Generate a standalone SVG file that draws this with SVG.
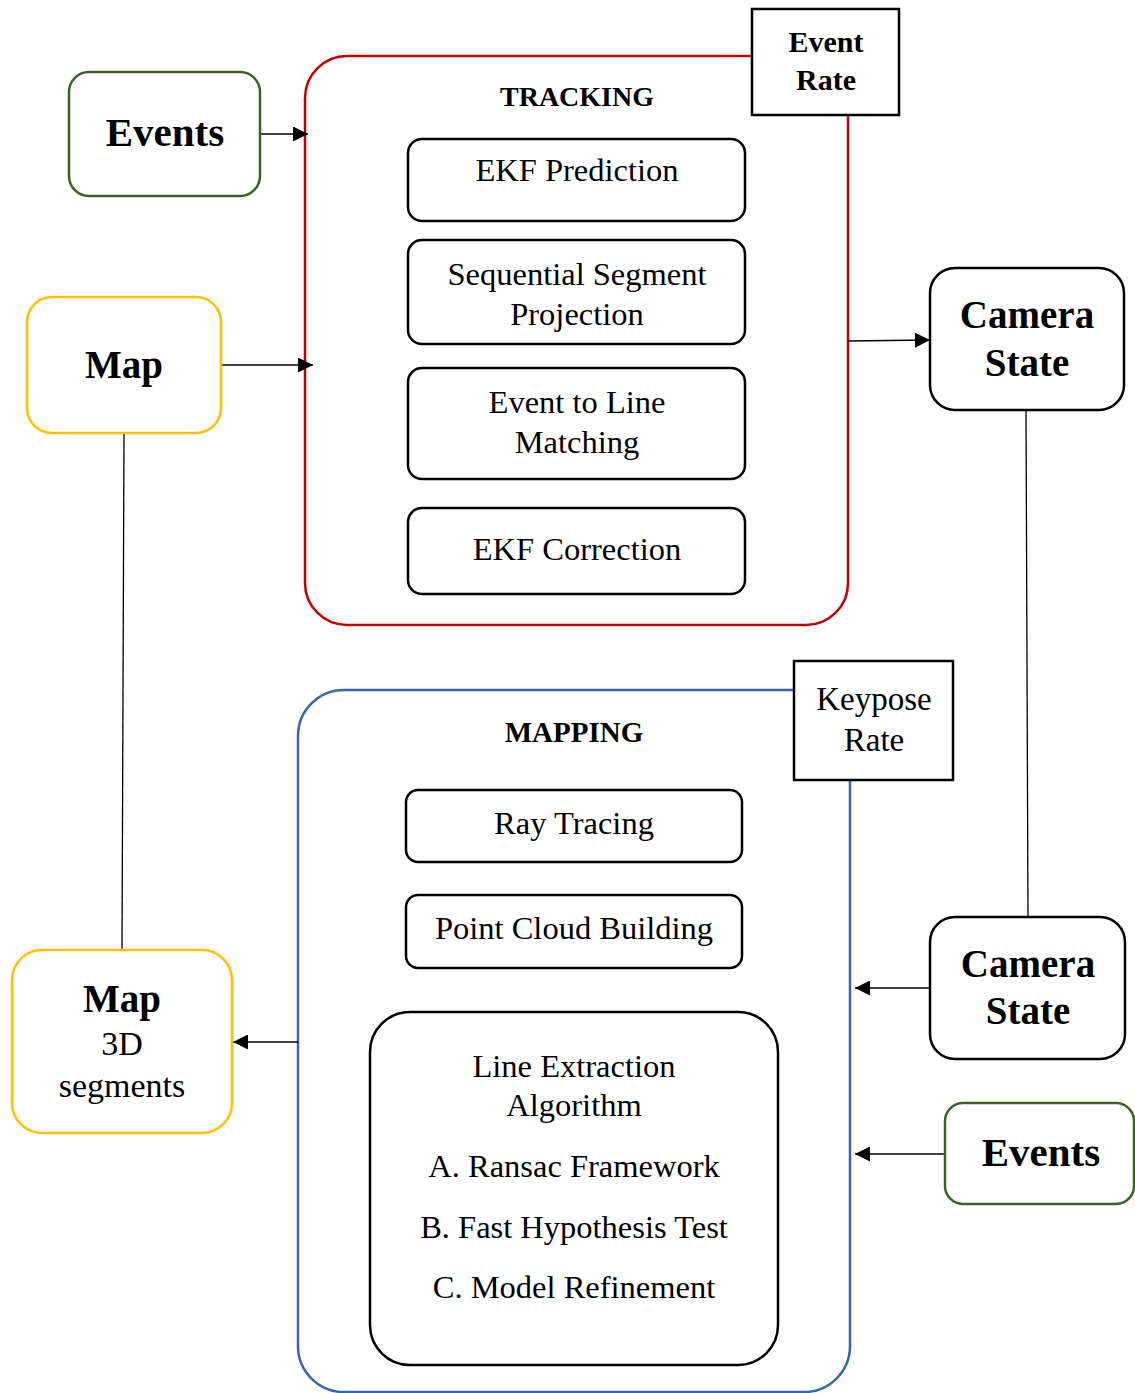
<svg xmlns="http://www.w3.org/2000/svg" width="1135" height="1393" viewBox="0 0 1135 1393">
<defs>
<marker id="ah" viewBox="0 0 10 10" refX="10" refY="5" markerWidth="15" markerHeight="15" markerUnits="userSpaceOnUse" orient="auto"><path d="M0,0 L10,5 L0,10 z" fill="#000"/></marker>
</defs>
<style>
text{font-family:"Liberation Serif","Times New Roman",serif;fill:#000;text-anchor:middle}
.b{font-weight:bold}
.inner{fill:#fff;stroke:#000;stroke-width:2.5}
.sq{fill:#fff;stroke:#000;stroke-width:2.5}
.green{fill:#fff;stroke:#3f6025;stroke-width:2.5}
.yellow{fill:#fff;stroke:#ffc000;stroke-width:2.5}
.cam{fill:#fff;stroke:#000;stroke-width:2.5}
.conn{stroke:#000;stroke-width:1.3;fill:none}
.t28{font-size:32.5px}
.big{font-size:39px;font-weight:bold}
.ev{font-size:41px;font-weight:bold}
</style>
<g id="tracking">
<rect x="305" y="56" width="543" height="569" rx="42" fill="#fff" stroke="#c00000" stroke-width="2.5"/>
<text x="577" y="106" class="b" font-size="28">TRACKING</text>
</g>
<g id="mapping">
<rect x="298" y="690" width="552" height="702" rx="46" fill="#fff" stroke="#3a62ad" stroke-width="2.5"/>
<text x="574" y="742" class="b" font-size="29">MAPPING</text>
</g>
<g id="connectors">
<line class="conn" x1="260" y1="134" x2="308" y2="134" marker-end="url(#ah)"/>
<line class="conn" x1="221" y1="365" x2="313" y2="365" marker-end="url(#ah)"/>
<line class="conn" x1="848" y1="341" x2="930" y2="340" marker-end="url(#ah)"/>
<line class="conn" x1="124" y1="433" x2="122" y2="950"/>
<line class="conn" x1="1026" y1="410" x2="1028" y2="917"/>
<line class="conn" x1="298" y1="1042" x2="233" y2="1042" marker-end="url(#ah)"/>
<line class="conn" x1="930" y1="988" x2="855" y2="988" marker-end="url(#ah)"/>
<line class="conn" x1="945" y1="1154" x2="855" y2="1154" marker-end="url(#ah)"/>
</g>
<g id="events-top">
<rect class="green" x="69" y="72" width="191" height="124" rx="20"/>
<text x="165" y="146" class="ev">Events</text>
</g>
<g id="event-rate">
<rect class="sq" x="752" y="9" width="147" height="106"/>
<text x="826" y="52" class="b" font-size="30">Event</text>
<text x="826" y="90" class="b" font-size="30">Rate</text>
</g>
<g id="ekf-prediction">
<rect class="inner" x="408" y="139" width="337" height="82" rx="14"/>
<text x="577" y="181" class="t28">EKF Prediction</text>
</g>
<g id="seq-seg">
<rect class="inner" x="408" y="240" width="337" height="104" rx="14"/>
<text x="577" y="285" class="t28">Sequential Segment</text>
<text x="577" y="325" class="t28">Projection</text>
</g>
<g id="event-line">
<rect class="inner" x="408" y="368" width="337" height="111" rx="14"/>
<text x="577" y="413" class="t28">Event to Line</text>
<text x="577" y="453" class="t28">Matching</text>
</g>
<g id="ekf-correction">
<rect class="inner" x="408" y="508" width="337" height="86" rx="14"/>
<text x="577" y="560" class="t28">EKF Correction</text>
</g>
<g id="camera-top">
<rect class="cam" x="930" y="268" width="194" height="142" rx="25"/>
<text x="1027" y="328" class="big">Camera</text>
<text x="1027" y="376" class="big">State</text>
</g>
<g id="map-top">
<rect class="yellow" x="27" y="297" width="194" height="136" rx="25"/>
<text x="124" y="378" class="big">Map</text>
</g>
<g id="keypose-rate">
<rect class="sq" x="794" y="661" width="159" height="119"/>
<text x="874" y="710" font-size="33">Keypose</text>
<text x="874" y="751" font-size="33">Rate</text>
</g>
<g id="ray-tracing">
<rect class="inner" x="406" y="790" width="336" height="72" rx="12"/>
<text x="574" y="834" class="t28">Ray Tracing</text>
</g>
<g id="point-cloud">
<rect class="inner" x="406" y="895" width="336" height="73" rx="12"/>
<text x="574" y="939" class="t28">Point Cloud Building</text>
</g>
<g id="line-extraction">
<rect class="inner" x="370" y="1012" width="408" height="353" rx="40"/>
<text x="574" y="1077" class="t28">Line Extraction</text>
<text x="574" y="1116" class="t28">Algorithm</text>
<text x="574" y="1177" class="t28">A. Ransac Framework</text>
<text x="574" y="1238" class="t28">B. Fast Hypothesis Test</text>
<text x="574" y="1298" class="t28">C. Model Refinement</text>
</g>
<g id="map-bottom">
<rect class="yellow" x="12" y="950" width="220" height="183" rx="30"/>
<text x="122" y="1012" class="big">Map</text>
<text x="122" y="1055" font-size="34">3D</text>
<text x="122" y="1097" font-size="34">segments</text>
</g>
<g id="camera-bottom">
<rect class="cam" x="930" y="917" width="195" height="142" rx="25"/>
<text x="1028" y="977" class="big">Camera</text>
<text x="1028" y="1024" class="big">State</text>
</g>
<g id="events-bottom">
<rect class="green" x="945" y="1103" width="189" height="101" rx="18"/>
<text x="1041" y="1166" class="ev">Events</text>
</g>
</svg>
